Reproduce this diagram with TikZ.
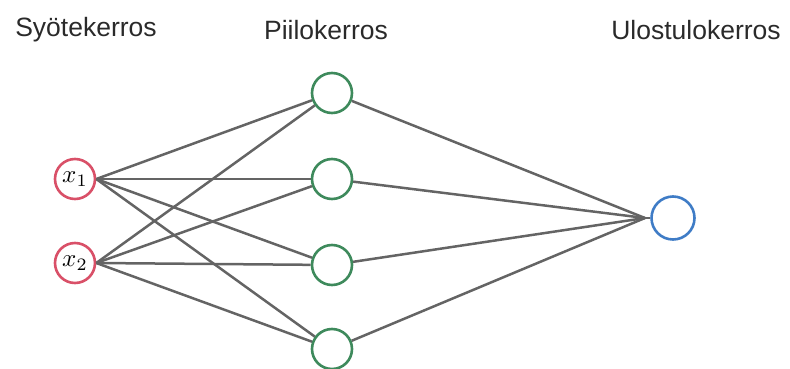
\documentclass[tikz,border=0pt]{standalone}
\usepackage{fontspec}
\setmainfont{Liberation Sans}
\begin{document}
\begin{tikzpicture}[x=1pt,y=-1pt,
  neuron/.style={circle,draw,line width=2.6pt,minimum size=40pt,inner sep=0pt},
  inneuron/.style={neuron,draw=inred},
  hidneuron/.style={neuron,draw=hidgreen},
  outneuron/.style={neuron,draw=outblue,minimum size=43pt},
  conn/.style={draw=edgegray,line width=2.5pt},
  title/.style={font=\fontsize{26.5}{30}\selectfont,text=titlegray}]
\definecolor{inred}{HTML}{D95068}
\definecolor{hidgreen}{HTML}{3E8A5C}
\definecolor{outblue}{HTML}{3F7CC6}
\definecolor{edgegray}{HTML}{646464}
\definecolor{titlegray}{HTML}{2A2A2A}
\useasboundingbox (0,0) rectangle (790,369);
\node[title] (t1) at (86,30) {Syötekerros};
\node[title] (t2) at (326,30) {Piilokerros};
\node[title] (t3) at (696,30) {Ulostulokerros};
\node[inneuron] (x1) at (75,179) {\scalebox{2.5}{$x_1$}};
\node[inneuron] (x2) at (75,263) {\scalebox{2.5}{$x_2$}};
\node[hidneuron] (h1) at (332,93) {};
\node[hidneuron] (h2) at (332,179) {};
\node[hidneuron] (h3) at (332,265) {};
\node[hidneuron] (h4) at (332,349) {};
\node[outneuron] (o) at (673,218) {};
\coordinate (oin) at (645,218);
\foreach \i in {x1,x2}{
  \foreach \h in {h1,h2,h3,h4}{
    \draw[conn] (\i.east) -- (\h);
  }
}
\foreach \h in {h1,h2,h3,h4}{
  \draw[conn] (\h) -- (oin);
}
\draw[conn] (oin) -- (o.west);
\end{tikzpicture}
\end{document}
